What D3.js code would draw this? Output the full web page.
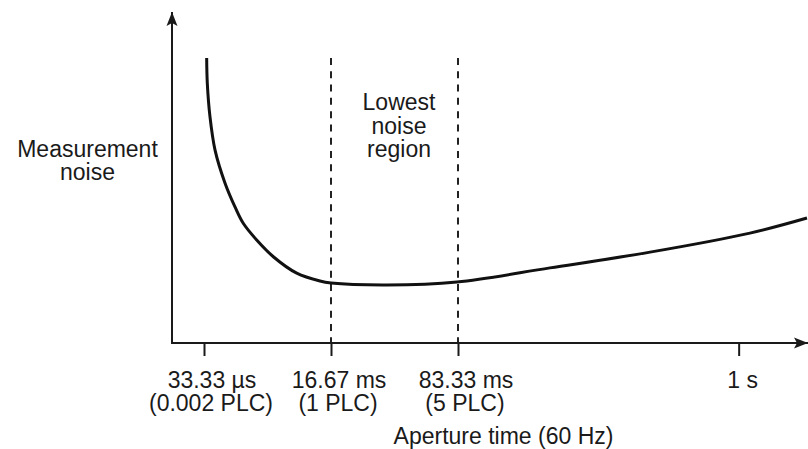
<!DOCTYPE html>
<html>
<head>
<meta charset="utf-8">
<script src="https://cdn.jsdelivr.net/npm/d3@7"></script>
<style>
  body { margin: 0; background: #fff; }
  text { font-family: "Liberation Sans", Arial, sans-serif; fill: #1a1a1a; }
</style>
</head>
<body>
<div id="chart"></div>
<script>
// aperture axis is schematic: positions in "tick units" (0 = 33.33 us, 1 = 1 PLC, 2 = 5 PLC, 4.21 = 1 s)
let tickPos = [0, 1, 2, 4.21]
let tickLine1 = ["33.33 \u00b5s", "16.67 ms", "83.33 ms", "1 s"]
let tickLine2 = ["(0.002 PLC)", "(1 PLC)", "(5 PLC)", ""]
let regionBounds = [1, 2]

// curve (noise in arbitrary units)
let curveX = [0.021, 0.026, 0.047, 0.087, 0.165, 0.244, 0.309, 0.415, 0.546, 0.730, 0.913, 1.000, 1.441, 1.992, 2.724, 3.512, 4.299, 4.748]
let curveY = [8.69, 7.92, 6.90, 5.88, 4.88, 4.15, 3.65, 3.14, 2.63, 2.13, 1.89, 1.83, 1.77, 1.86, 2.29, 2.77, 3.35, 3.81]

let width = 808, height = 449

let svg = d3.select("#chart").append("svg")
    .attr("width", width)
    .attr("height", height)

let x = d3.scaleLinear().domain([-0.252, 4.756]).range([172, 808])
let y = d3.scaleLinear().domain([0, 10]).range([343, 15])

let defs = svg.append("defs")
defs.append("marker")
    .attr("id", "arrow")
    .attr("markerUnits", "userSpaceOnUse")
    .attr("viewBox", "0 -6 14 12")
    .attr("refX", 14).attr("refY", 0)
    .attr("markerWidth", 14).attr("markerHeight", 12)
    .attr("orient", "auto")
    .append("path")
    .attr("d", "M0,-5.5L14,0L0,5.5L3,0Z")
    .attr("fill", "#1a1a1a")

// dashed region bounds
svg.append("g").selectAll("line")
    .data(regionBounds)
    .enter()
    .append("line")
    .attr("x1", d => x(d)).attr("x2", d => x(d))
    .attr("y1", y(8.69)).attr("y2", y(0))
    .attr("stroke", "#222")
    .attr("stroke-width", 2)
    .attr("stroke-dasharray", "7,6.3")

// x axis ticks
let xAxis = svg.append("g")
    .attr("transform", "translate(0," + y(0) + ")")
    .call(d3.axisBottom(x).tickValues(tickPos).tickSize(13).tickSizeOuter(0).tickFormat(""))
xAxis.select(".domain").remove()
xAxis.selectAll(".tick line").attr("stroke", "#1a1a1a").attr("stroke-width", 2)

// axes lines with arrows
svg.append("line")
    .attr("x1", x.range()[0]).attr("x2", 808)
    .attr("y1", y(0)).attr("y2", y(0))
    .attr("stroke", "#1a1a1a").attr("stroke-width", 2)
    .attr("marker-end", "url(#arrow)")
svg.append("line")
    .attr("x1", x.range()[0]).attr("x2", x.range()[0])
    .attr("y1", y(0) + 1).attr("y2", 12)
    .attr("stroke", "#1a1a1a").attr("stroke-width", 2)
    .attr("marker-end", "url(#arrow)")

// tick labels
let labels = svg.append("g").selectAll("text")
    .data(tickPos)
    .enter()
    .append("text")
    .attr("text-anchor", "middle")
    .style("font-size", "23px")
labels.append("tspan")
    .attr("x", (d, i) => x(d) + (i == 3 ? 4 : 8))
    .attr("y", 388)
    .text((d, i) => tickLine1[i])
labels.append("tspan")
    .attr("x", (d, i) => x(d) + 7)
    .attr("y", 411)
    .text((d, i) => tickLine2[i])

// curve
let pts = curveX.map((d, i) => [d, curveY[i]])
svg.append("path")
    .datum(pts)
    .attr("fill", "none")
    .attr("stroke", "#111")
    .attr("stroke-width", 3)
    .attr("d", d3.line().x(d => x(d[0])).y(d => y(d[1])).curve(d3.curveCatmullRom.alpha(0.5)))

// texts
let yTitle = svg.append("text").attr("text-anchor", "middle").style("font-size", "23px")
yTitle.append("tspan").attr("x", 87.5).attr("y", 157).text("Measurement")
yTitle.append("tspan").attr("x", 87.5).attr("y", 180).text("noise")

let region = svg.append("text").attr("text-anchor", "middle").style("font-size", "23px")
region.append("tspan").attr("x", 399).attr("y", 110).text("Lowest")
region.append("tspan").attr("x", 399).attr("y", 133.5).text("noise")
region.append("tspan").attr("x", 399).attr("y", 157).text("region")

svg.append("text")
    .attr("text-anchor", "middle")
    .attr("x", 503.5).attr("y", 444)
    .style("font-size", "23px")
    .text("Aperture time (60 Hz)")
</script>
</body>
</html>
